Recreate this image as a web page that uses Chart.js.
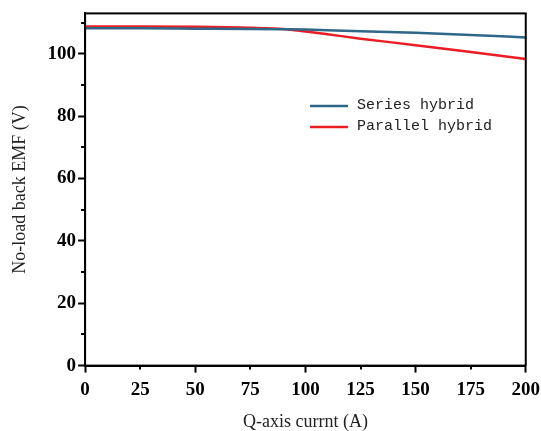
<!DOCTYPE html>
<html>
<head>
<meta charset="utf-8">
<script src="https://cdn.jsdelivr.net/npm/chart.js@4/dist/chart.umd.min.js"></script>
<style>
  html, body { margin: 0; padding: 0; background: #fff; overflow: hidden; }
  #wrap { width: 546px; height: 431px; }
</style>
</head>
<body>
<div id="wrap"><canvas id="emfChart"></canvas></div>
<script>
// Q-axis current (A)
const currents = [0, 25, 50, 75, 90, 100, 110, 125, 150, 175, 200];
// No-load back EMF (V)
const seriesHybrid   = [108.2, 108.2, 108.1, 108.0, 107.9, 107.8, 107.6, 107.3, 106.8, 106.1, 105.3];
const parallelHybrid = [108.8, 108.8, 108.7, 108.4, 108.0, 107.2, 106.3, 104.9, 102.8, 100.6, 98.4];

const xMajor = [0, 50, 100, 150, 200];
const xMinor = [25, 75, 125, 175];
const yMajor = [0, 20, 40, 60, 80, 100];
const yMinor = [10, 30, 50, 70, 90, 110];

const blue = '#2f6788';
const red = '#ec1c24';

// frame, minor ticks and the legend drawn on top of the chart
const frameAndLegend = {
    id: 'frameAndLegend',
    afterDraw(chart) {
        const { ctx, chartArea: a, scales } = chart;
        ctx.save();
        ctx.strokeStyle = '#000';
        ctx.lineWidth = 2;
        ctx.strokeRect(a.left, a.top, a.right - a.left, a.bottom - a.top);

        // minor ticks
        ctx.beginPath();
        xMinor.forEach(v => {
            const px = Math.round(scales.x.getPixelForValue(v));
            ctx.moveTo(px, a.bottom);
            ctx.lineTo(px, a.bottom + 4);
        });
        yMinor.forEach(v => {
            const py = Math.round(scales.y.getPixelForValue(v));
            ctx.moveTo(a.left, py);
            ctx.lineTo(a.left - 4, py);
        });
        ctx.stroke();

        // legend
        ctx.font = '15px "Liberation Mono"';
        ctx.textBaseline = 'middle';
        ctx.fillStyle = '#222';
        const lx = 310, ly = 106, gap = 21;
        chart.data.datasets.forEach((ds, i) => {
            const y = ly + i * gap;
            ctx.strokeStyle = ds.borderColor;
            ctx.lineWidth = 2.5;
            ctx.beginPath();
            ctx.moveTo(lx, y);
            ctx.lineTo(lx + 38, y);
            ctx.stroke();
            ctx.fillText(ds.label, lx + 47, y - 1);
        });
        ctx.restore();
    }
};

const ctx = document.getElementById('emfChart').getContext('2d');
new Chart(ctx, {
    type: 'line',
    data: {
        datasets: [{
            label: 'Series hybrid',
            data: currents.map((x, i) => ({ x: x, y: seriesHybrid[i] })),
            borderColor: blue,
            borderWidth: 2.5,
            pointRadius: 0,
            cubicInterpolationMode: 'monotone'
        }, {
            label: 'Parallel hybrid',
            data: currents.map((x, i) => ({ x: x, y: parallelHybrid[i] })),
            borderColor: red,
            borderWidth: 2.5,
            pointRadius: 0,
            cubicInterpolationMode: 'monotone'
        }]
    },
    options: {
        responsive: true,
        maintainAspectRatio: false,
        animation: false,
        layout: { padding: { left: 5, right: 2, top: 12, bottom: -6 } },
        plugins: {
            legend: { display: false },
            tooltip: { enabled: false }
        },
        scales: {
            x: {
                type: 'linear',
                min: 0,
                max: 200,
                afterBuildTicks: axis => {
                    axis.ticks = [0, 25, 50, 75, 100, 125, 150, 175, 200].map(v => ({ value: v }));
                },
                grid: {
                    drawOnChartArea: false,
                    tickLength: 7,
                    tickWidth: 2,
                    tickColor: c => (xMajor.includes(c.tick.value) ? '#000' : 'rgba(0,0,0,0)')
                },
                border: { color: '#000', width: 2 },
                ticks: {
                    color: '#000',
                    padding: 6,
                    maxRotation: 0,
                    autoSkip: false,
                    font: { family: '"Liberation Serif"', size: 19, weight: 'bold' }
                },
                title: {
                    display: true,
                    text: 'Q-axis currnt (A)',
                    color: '#222',
                    padding: { top: 4 },
                    font: { family: '"Liberation Serif"', size: 18 }
                }
            },
            y: {
                type: 'linear',
                min: 0,
                max: 113,
                afterBuildTicks: axis => {
                    axis.ticks = yMajor.map(v => ({ value: v }));
                },
                grid: {
                    drawOnChartArea: false,
                    tickLength: 7,
                    tickWidth: 2,
                    tickColor: '#000'
                },
                border: { color: '#000', width: 2 },
                ticks: {
                    color: '#000',
                    padding: 2,
                    font: { family: '"Liberation Serif"', size: 19, weight: 'bold' }
                },
                title: {
                    display: true,
                    text: 'No-load back EMF (V)',
                    color: '#222',
                    padding: { bottom: 15 },
                    font: { family: '"Liberation Serif"', size: 18 }
                }
            }
        }
    },
    plugins: [frameAndLegend]
});
</script>
</body>
</html>
